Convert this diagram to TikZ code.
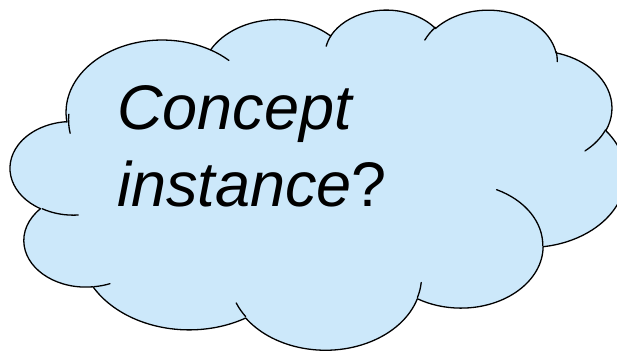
\documentclass[tikz,border=0pt]{standalone}
\usepackage{fontspec}
\setmainfont{Liberation Sans}
\definecolor{cloudfill}{RGB}{204,232,250}
% wR, hR, start (visual deg), sweep (deg) -> parametric start / delta
\newcommand\cldmk[5]{%
  \pgfmathsetmacro\cldtmpS{atan2((#2)*sin(#4),(#3)*cos(#4))}%
  \pgfmathsetmacro\cldtmpE{atan2((#2)*sin((#4)+(#5)),(#3)*cos((#4)+(#5)))}%
  \pgfmathsetmacro\cldtmpD{Mod(\cldtmpE-\cldtmpS,360)}%
  \ifdim #5pt<0pt \pgfmathsetmacro\cldtmpD{\cldtmpD-360}\fi
  \expandafter\xdef\csname cldS#1\endcsname{\cldtmpS}%
  \expandafter\xdef\csname cldD#1\endcsname{\cldtmpD}%
}
\cldmk{A}{67.53}{91.90}{-190.48748}{123.78053}
\cldmk{B}{53.33}{72.67}{-144.10238}{89.94523}
\cldmk{C}{43.65}{59.45}{-145.80792}{99.72302}
\cldmk{D}{48.57}{65.95}{-130.98607}{117.24173}
\cldmk{E}{53.33}{72.73}{-78.70888}{109.02692}
\cldmk{F}{67.75}{92.20}{-46.26725}{130.269}
\cldmk{G}{57.85}{78.67}{0.62502}{114.03333}
\cldmk{H}{67.52}{92.15}{22.4516}{115.17255}
\cldmk{I}{77.20}{105.43}{66.24263}{76.95867}
\cldmk{J}{43.60}{59.18}{-274.94208}{146.73557}
\cldmk{K}{43.45}{59.45}{-246.8285}{152.51885}
\cldmk{a}{43.45}{59.45}{86.742}{26.4295}
\cldmk{b}{43.60}{59.18}{73.61047}{11.44747}
\cldmk{c}{67.52}{92.15}{137.62415}{14.0811}
\cldmk{d}{67.52}{92.15}{6.45327}{15.99835}
\cldmk{e}{57.85}{78.67}{-70.29235}{70.91737}
\cldmk{f}{53.33}{72.73}{30.31803}{27.7515}
\cldmk{g}{48.57}{65.95}{-13.74433}{14.8589}
\cldmk{h}{48.57}{65.95}{-149.18145}{18.19537}
\cldmk{i}{43.65}{59.45}{-163.49427}{17.68635}
\cldmk{j}{67.53}{91.90}{-66.70695}{12.31935}
\cldmk{k}{67.53}{91.90}{165.88145}{20.43927}
\tikzset{
  cloudline/.style={draw=black, line width=1.3pt, line join=round, line cap=round},
  cloudtext/.style={anchor=base west, inner sep=0pt, font=\fontsize{63pt}{75pt}\selectfont}
}
\begin{document}
\begin{tikzpicture}
\useasboundingbox (0pt,0pt) rectangle (617pt,350pt);
\clip (0pt,0pt) rectangle (617pt,350pt);
\begin{scope}[shift={(11.5pt,341pt)}, x={(1.4213pt,0pt)}, y={(0pt,-0.78704pt)}]
\path[cloudline, fill=cloudfill] (39.00,143.70)
  arc[start angle=\cldSA, delta angle=\cldDA, x radius=67.53, y radius=91.90]
  arc[start angle=\cldSB, delta angle=\cldDB, x radius=53.33, y radius=72.67]
  arc[start angle=\cldSC, delta angle=\cldDC, x radius=43.65, y radius=59.45]
  arc[start angle=\cldSD, delta angle=\cldDD, x radius=48.57, y radius=65.95]
  arc[start angle=\cldSE, delta angle=\cldDE, x radius=53.33, y radius=72.73]
  arc[start angle=\cldSF, delta angle=\cldDF, x radius=67.75, y radius=92.20]
  arc[start angle=\cldSG, delta angle=\cldDG, x radius=57.85, y radius=78.67]
  arc[start angle=\cldSH, delta angle=\cldDH, x radius=67.52, y radius=92.15]
  arc[start angle=\cldSI, delta angle=\cldDI, x radius=77.20, y radius=105.43]
  arc[start angle=\cldSJ, delta angle=\cldDJ, x radius=43.60, y radius=59.18]
  arc[start angle=\cldSK, delta angle=\cldDK, x radius=43.45, y radius=59.45]
  -- cycle;
\path[cloudline]
  (46.93,261.77) arc[start angle=\cldSa, delta angle=\cldDa, x radius=43.45, y radius=59.45]
  (69.28,348.99) arc[start angle=\cldSb, delta angle=\cldDb, x radius=43.60, y radius=59.18]
  (164.78,390.90) arc[start angle=\cldSc, delta angle=\cldDc, x radius=67.52, y radius=92.15]
  (288.27,347.51) arc[start angle=\cldSd, delta angle=\cldDd, x radius=67.52, y radius=92.15]
  (341.29,229.54) arc[start angle=\cldSe, delta angle=\cldDe, x radius=57.85, y radius=78.67]
  (417.98,153.54) arc[start angle=\cldSf, delta angle=\cldDf, x radius=53.33, y radius=72.73]
  (383.24,54.26) arc[start angle=\cldSg, delta angle=\cldDg, x radius=48.57, y radius=65.95]
  (290.78,39.52) arc[start angle=\cldSh, delta angle=\cldDh, x radius=48.57, y radius=65.95]
  (221.41,47.20) arc[start angle=\cldSi, delta angle=\cldDi, x radius=43.65, y radius=59.45]
  (140.00,51.92) arc[start angle=\cldSj, delta angle=\cldDj, x radius=67.53, y radius=91.90]
  (41.27,157.89) arc[start angle=\cldSk, delta angle=\cldDk, x radius=67.53, y radius=91.90];
\end{scope}
\node[cloudtext] (line1) at (117pt,220pt) {\itshape Concept};
\node[cloudtext] (line2) at (117pt,143.5pt) {{\itshape instance}?};
\end{tikzpicture}
\end{document}
